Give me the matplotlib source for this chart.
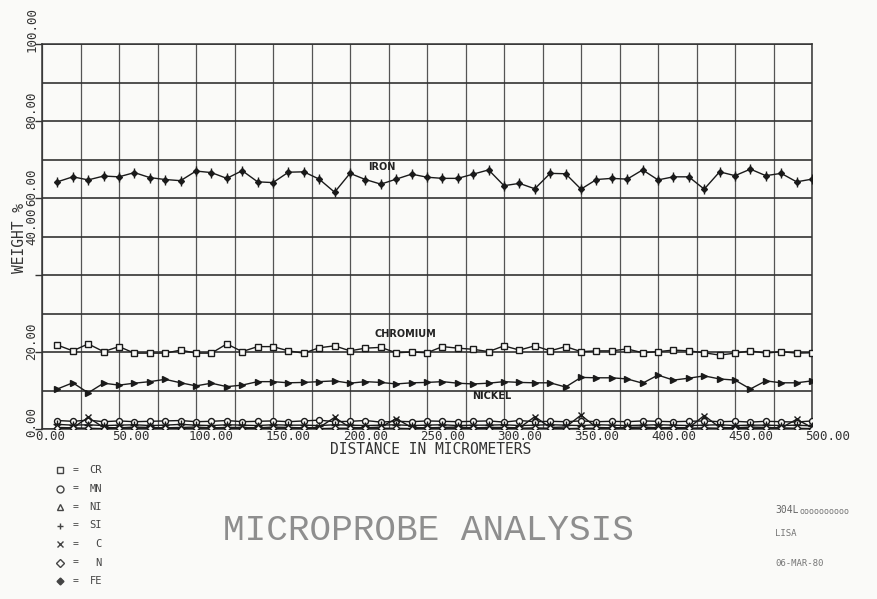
import matplotlib
matplotlib.use('Agg')
import matplotlib.pyplot as plt
from matplotlib.lines import Line2D
from matplotlib.transforms import ScaledTranslation

# ---------------- data ----------------
distance = [10, 20, 30, 40, 50, 60, 70, 80, 90, 100,
            110, 120, 130, 140, 150, 160, 170, 180, 190, 200,
            210, 220, 230, 240, 250, 260, 270, 280, 290, 300,
            310, 320, 330, 340, 350, 360, 370, 380, 390, 400,
            410, 420, 430, 440, 450, 460, 470, 480, 490, 500]

fe = [64.2, 65.5, 64.7, 65.7, 65.5, 66.6, 65.3, 64.8, 64.5, 67.0,
      66.6, 65.1, 67.1, 64.2, 64.0, 66.7, 66.8, 64.9, 61.5, 66.4,
      64.8, 63.6, 64.9, 66.2, 65.4, 65.1, 65.1, 66.2, 67.3, 63.2,
      63.8, 62.4, 66.4, 66.3, 62.3, 64.8, 65.1, 64.9, 67.3, 64.7,
      65.5, 65.5, 62.3, 66.8, 65.8, 67.5, 65.8, 66.4, 64.2, 64.9]

cr = [21.8, 20.3, 22.1, 20.1, 21.4, 19.7, 19.7, 19.7, 20.5, 19.7,
      19.7, 22.1, 20.1, 21.4, 21.4, 20.3, 19.7, 21.1, 21.6, 20.3,
      21.0, 21.2, 19.8, 20.0, 19.8, 21.4, 21.0, 20.7, 20.1, 21.6,
      20.5, 21.6, 20.3, 21.4, 20.1, 20.3, 20.3, 20.8, 19.8, 20.1,
      20.5, 20.3, 19.8, 19.2, 19.7, 20.3, 19.7, 20.1, 19.7, 19.8]

ni = [10.4, 12.0, 9.4, 11.9, 11.4, 11.9, 12.3, 12.9, 12.0, 11.2,
      11.9, 11.0, 11.4, 12.3, 12.3, 12.0, 12.1, 12.3, 12.5, 11.9,
      12.3, 12.1, 11.7, 12.0, 12.1, 12.3, 11.9, 11.7, 11.9, 12.3,
      12.1, 12.0, 12.0, 10.9, 13.4, 13.3, 13.3, 13.0, 11.9, 14.0,
      12.7, 13.2, 13.8, 13.0, 12.7, 10.4, 12.5, 12.0, 12.0, 12.5]

mn = [2.2, 2.0, 2.3, 1.9, 2.1, 1.9, 2.0, 2.1, 2.2, 1.9,
      2.0, 2.2, 1.9, 2.0, 2.1, 1.9, 2.1, 2.3, 1.9, 2.0,
      2.2, 1.8, 2.0, 1.9, 2.1, 2.0, 1.9, 2.0, 2.1, 1.8,
      2.2, 1.9, 2.0, 1.9, 2.1, 1.9, 2.0, 1.9, 2.1, 2.0,
      1.9, 2.0, 2.1, 1.9, 2.0, 1.8, 2.0, 1.9, 1.8, 2.1]

si = [1.2, 1.0, 1.1, 0.9, 1.0, 1.1, 0.9, 1.0, 1.2, 1.0,
      0.9, 1.1, 1.0, 0.9, 1.1, 1.0, 1.0, 0.9, 1.1, 1.0,
      0.9, 1.0, 1.1, 0.9, 1.0, 1.1, 0.9, 1.0, 1.0, 1.1,
      0.9, 1.0, 1.1, 1.0, 0.9, 1.1, 1.0, 0.9, 1.0, 1.1,
      1.0, 0.9, 1.0, 1.1, 0.9, 1.0, 1.0, 0.9, 1.0, 0.8]

c = [0.4, 0.3, 3.0, 0.4, 0.3, 0.5, 0.4, 0.3, 0.4, 0.5,
     0.3, 0.4, 0.4, 0.3, 0.5, 0.4, 0.3, 0.4, 3.0, 0.4,
     0.3, 0.5, 2.7, 0.4, 0.3, 0.4, 0.5, 0.3, 0.4, 0.4,
     0.3, 3.2, 0.4, 0.5, 3.6, 0.4, 0.3, 0.4, 0.5, 0.3,
     0.4, 0.3, 3.5, 0.4, 0.3, 0.5, 0.4, 0.3, 2.5, 0.4]

n = [0.2, 0.3, 0.2, 0.1, 0.2, 0.3, 0.2, 0.2, 0.1, 0.2,
     0.3, 0.2, 0.1, 0.2, 0.2, 0.3, 0.2, 0.1, 0.2, 0.2,
     0.3, 0.2, 0.2, 0.1, 0.2, 0.3, 0.2, 0.2, 0.1, 0.2,
     0.2, 0.3, 0.2, 0.1, 0.2, 0.2, 0.3, 0.2, 0.2, 0.1,
     0.2, 0.2, 0.3, 0.2, 0.1, 0.2, 0.2, 0.3, 0.2, 0.1]

x_ticks = [0, 50, 100, 150, 200, 250, 300, 350, 400, 450, 500]
x_tick_labels = ['0.00', '50.00', '100.00', '150.00', '200.00', '250.00',
                 '300.00', '350.00', '400.00', '450.00', '500.00']
y_ticks = [0, 20, 40, 60, 80, 100]
y_tick_labels = ['0.00', '20.00', '40.00', '60.00', '80.00', '100.00']
x_grid = [0, 25, 50, 75, 100, 125, 150, 175, 200, 225, 250, 275, 300, 325,
          350, 375, 400, 425, 450, 475, 500]
y_grid = [0, 10, 20, 30, 40, 50, 60, 70, 80, 90, 100]

legend_names = ['CR', 'MN', 'NI', 'SI', 'C', 'N', 'FE']

# ---------------- figure ----------------
BG = '#fafaf8'
INK = '#1a1a1a'
MONO = 'DejaVu Sans Mono'

fig = plt.figure(figsize=(8.77, 5.99), dpi=100, facecolor=BG)
ax = fig.add_axes([42 / 877, 170 / 599, 770 / 877, 385 / 599])
ax.set_facecolor(BG)
ax.set_xlim(0, 500)
ax.set_ylim(0, 100)

for xv in x_grid:
    ax.axvline(xv, color='#555555', lw=0.9, zorder=1)
for yv in y_grid:
    ax.axhline(yv, color='#333333', lw=1.2, zorder=1)
for s in ax.spines.values():
    s.set_color('#333333')
    s.set_linewidth(1.1)

ax.set_xticks([])
ax.set_yticks([])

lw = 1.0
ms = 4.3
# series
ax.plot(distance, fe, color=INK, lw=lw, marker='D', ms=3.0, zorder=5)
ax.plot(distance, fe, ls='none', color=INK, marker='|', ms=6.5, mew=1.0, zorder=5)
ax.plot(distance, cr, color=INK, lw=lw, marker='s', ms=ms, mfc=BG, mec=INK, mew=1.0, zorder=5)
ax.plot(distance, ni, color=INK, lw=lw, marker='>', ms=ms, zorder=5)
ax.plot(distance, mn, color=INK, lw=lw, marker='o', ms=ms, mfc=BG, mec=INK, mew=1.0, zorder=4)
ax.plot(distance, si, color=INK, lw=lw, marker='+', ms=ms + 1, mew=1.0, zorder=4)
ax.plot(distance, c, color=INK, lw=lw, marker='x', ms=ms + 0.5, mew=1.0, zorder=4)
ax.plot(distance, n, color=INK, lw=lw, marker='D', ms=3.3, mfc=BG, mec=INK, mew=1.0, zorder=4)

# series labels
ax.text(212, 68, 'IRON', fontsize=7, fontweight='bold', color='#222', va='center', ha='left')
ax.text(216, 24.7, 'CHROMIUM', fontsize=7, fontweight='bold', color='#222', va='center', ha='left')
ax.text(279, 8.7, 'NICKEL', fontsize=7, fontweight='bold', color='#222', va='center', ha='left')

# x tick labels
xt = ax.get_xaxis_transform() + ScaledTranslation(-7 / 100, -8 / 100, fig.dpi_scale_trans)
for xv, lab in zip(x_ticks, x_tick_labels):
    ax.text(xv, 0, lab, transform=xt, ha='left', va='center', fontsize=9,
            family=MONO, color='#333')
ax.text(0.5, 0, 'DISTANCE IN MICROMETERS',
        transform=ax.transAxes + ScaledTranslation(4 / 100, -21 / 100, fig.dpi_scale_trans),
        ha='center', va='center', fontsize=10.5, family=MONO, color='#333')

# y tick labels (rotated)
for yv, lab in zip(y_ticks, y_tick_labels):
    dy = 30 if lab == '40.00' else -8
    yt = ax.get_yaxis_transform() + ScaledTranslation(-10 / 100, dy / 100, fig.dpi_scale_trans)
    ax.text(0, yv, lab, transform=yt, rotation=90, ha='center', va='bottom',
            fontsize=9, family=MONO, color='#333')
    ax.plot([0], [yv], marker=0, ms=5, color='#333', mew=1.0, clip_on=False,
            transform=ax.get_yaxis_transform())
ax.text(0, 0.496, 'WEIGHT %', transform=ax.transAxes + ScaledTranslation(-23 / 100, 0, fig.dpi_scale_trans),
        rotation=90, ha='center', va='center', fontsize=10.5, family=MONO, color='#333')

# legend block
markers = [dict(marker='s', mfc='none'), dict(marker='o', mfc='none'), dict(marker='^', mfc='none'),
           dict(marker='+'), dict(marker='x'), dict(marker='D', mfc='none', ms=4), dict(marker='D', ms=3.5)]
for i, (name, mk) in enumerate(zip(legend_names, markers)):
    ypx = 470 + i * 18.5
    yf = 1 - ypx / 599
    kw = dict(color='#444', mec='#444', mew=1.0, ms=5, ls='none')
    kw.update(mk)
    fig.add_artist(Line2D([60 / 877], [yf], transform=fig.transFigure, **kw))
    fig.text(76 / 877, yf, '=', ha='center', va='center', fontsize=7, family=MONO, color='#444')
    fig.text(102 / 877, yf, name, ha='right', va='center', fontsize=7.5, family=MONO, color='#444')

# title and annotations
fig.text(428 / 877, 1 - 531 / 599, 'MICROPROBE ANALYSIS', ha='center', va='center',
         fontsize=26, family='Liberation Mono', color='#8e8e8e')
fig.text(775 / 877, 1 - 510 / 599, '304L', ha='left', va='center', fontsize=7, family=MONO, color='#666')
fig.text(800 / 877, 1 - 512 / 599, 'oooooooooo', ha='left', va='center', fontsize=6, family=MONO, color='#777')
fig.text(775 / 877, 1 - 533 / 599, 'LISA', ha='left', va='center', fontsize=6.5, family=MONO, color='#777')
fig.text(775 / 877, 1 - 563 / 599, '06-MAR-80', ha='left', va='center', fontsize=6.5, family=MONO, color='#777')

fig.savefig('out.png', dpi=100, facecolor=BG)
